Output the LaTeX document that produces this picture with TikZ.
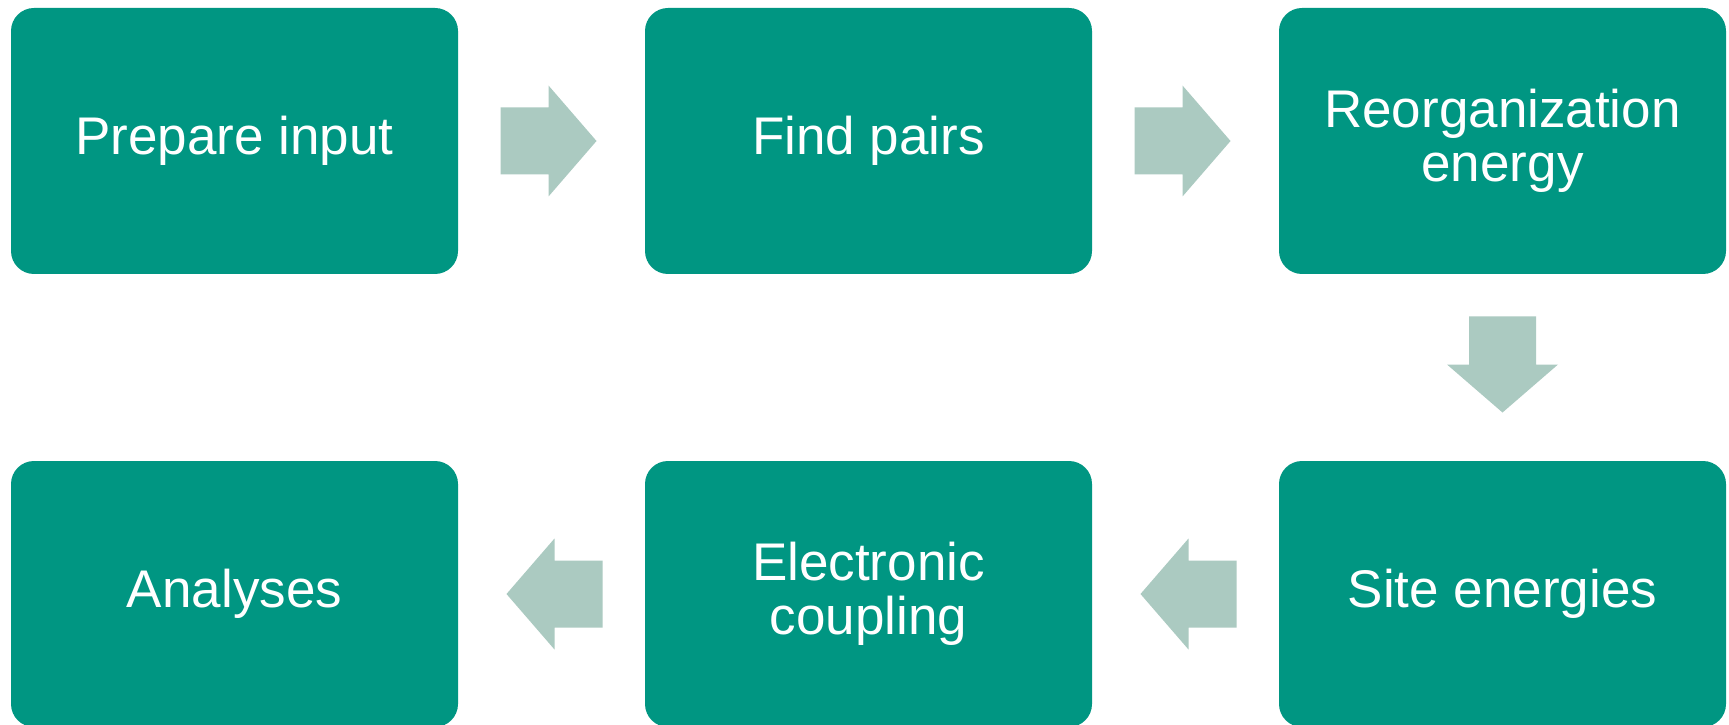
\documentclass[tikz,border=0pt]{standalone}
\usepackage{fontspec}
\setmainfont{Liberation Sans}
\usetikzlibrary{calc}
\definecolor{stepteal}{RGB}{0,150,130}
\definecolor{flowgrey}{RGB}{171,202,193}
\tikzset{
  stepbox/.style={rectangle, rounded corners=23pt, fill=stepteal, draw=none,
    minimum width=447pt, minimum height=266pt, inner sep=0pt,
    text=white, align=center,
    font=\fontsize{53}{54}\selectfont},
  flowarrow/.pic={
    \fill[flowgrey] (-48,-33.5) -- (0,-33.5) -- (0,-55.5) -- (48,0)
      -- (0,55.5) -- (0,33.5) -- (-48,33.5) -- cycle;
  }
}
\begin{document}
\begin{tikzpicture}[x=1pt, y=1pt]
  \clip (0,0) rectangle (1729,724);
  \fill[white] (0,0) rectangle (1729,724);

  % top row, left to right
  \node[stepbox] (prep)  at (234.5,583) {Prepare input};
  \node[stepbox] (pairs) at (868.5,583) {Find pairs};
  \node[stepbox] (reorg) at (1502.5,583) {Reorganization\\energy};
  % bottom row, right to left
  \node[stepbox] (site)  at (1502.5,130) {Site energies};
  \node[stepbox] (coup)  at (868.5,130) {Electronic\\coupling};
  \node[stepbox] (anal)  at (234.5,130) {Analyses};

  % block arrows between consecutive steps
  \coordinate (a1) at ($(prep.east)!0.5!(pairs.west)+(-3,0)$);
  \coordinate (a2) at ($(pairs.east)!0.5!(reorg.west)+(-3,0)$);
  \coordinate (a3) at ($(reorg.south)!0.5!(site.north)+(0,3)$);
  \coordinate (a4) at ($(site.west)!0.5!(coup.east)+(3,0)$);
  \coordinate (a5) at ($(coup.west)!0.5!(anal.east)+(3,0)$);
  \pic at (a1) {flowarrow};
  \pic at (a2) {flowarrow};
  \pic[rotate=-90] at (a3) {flowarrow};
  \pic[rotate=180] at (a4) {flowarrow};
  \pic[rotate=180] at (a5) {flowarrow};
\end{tikzpicture}
\end{document}
